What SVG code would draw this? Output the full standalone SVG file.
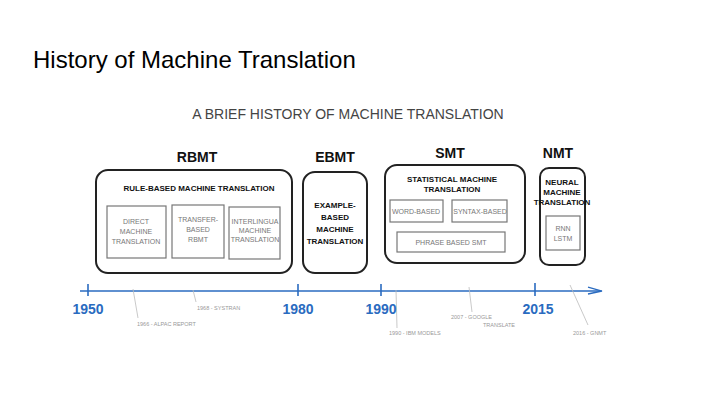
<svg xmlns="http://www.w3.org/2000/svg" width="720" height="405" viewBox="0 0 720 405">
<style>
text{font-family:"Liberation Sans",Arial,sans-serif}
.big{stroke:#222;stroke-width:2;fill:none}
.sub{stroke:#777;stroke-width:1.2;fill:none}
.h{font-size:14px;fill:#111;text-anchor:middle;font-weight:bold}
.t{font-size:8px;fill:#111;text-anchor:middle;font-weight:bold}
.s{font-size:7px;fill:#777;text-anchor:middle}
.n{font-size:5.5px;fill:#999}
.y{font-size:14px;fill:#2a6bc0;font-weight:bold;text-anchor:middle}
.g{stroke:#bbb;stroke-width:0.8;fill:none}
</style>
<rect width="720" height="405" fill="#fff"/>
<text x="33" y="68" font-size="24" fill="#000">History of Machine Translation</text>
<text x="348" y="119" font-size="14" fill="#444" text-anchor="middle">A BRIEF HISTORY OF MACHINE TRANSLATION</text>
<g id="rbmt">
<text class="h" x="197" y="162">RBMT</text>
<rect class="big" x="96" y="170" width="196" height="103" rx="12"/>
<text class="t" x="199" y="191">RULE-BASED MACHINE TRANSLATION</text>
<rect class="sub" x="107" y="206" width="59" height="52"/>
<text class="s" x="136" y="224">DIRECT</text><text class="s" x="136" y="234">MACHINE</text><text class="s" x="136" y="244">TRANSLATION</text>
<rect class="sub" x="172" y="205" width="52" height="53"/>
<text class="s" x="198" y="222">TRANSFER-</text><text class="s" x="198" y="232">BASED</text><text class="s" x="198" y="242">RBMT</text>
<rect class="sub" x="229" y="207" width="51" height="52"/>
<text class="s" x="255" y="224" font-size="6.2">INTERLINGUA</text><text class="s" x="255" y="233" font-size="6.2">MACHINE</text><text class="s" x="255" y="242" font-size="6.2">TRANSLATION</text>
</g>
<g id="ebmt">
<text class="h" x="335" y="162">EBMT</text>
<rect class="big" x="303" y="172" width="64" height="101" rx="12"/>
<text class="t" x="335" y="208">EXAMPLE-</text><text class="t" x="335" y="220">BASED</text><text class="t" x="335" y="232">MACHINE</text><text class="t" x="335" y="244">TRANSLATION</text>
</g>
<g id="smt">
<text class="h" x="450" y="158">SMT</text>
<rect class="big" x="385" y="165" width="140" height="98" rx="12"/>
<text class="t" x="452" y="182">STATISTICAL MACHINE</text><text class="t" x="452" y="192">TRANSLATION</text>
<rect class="sub" x="390" y="200" width="53" height="22"/>
<text class="s" x="416" y="214">WORD-BASED</text>
<rect class="sub" x="452" y="200" width="55" height="22"/>
<text class="s" x="480" y="214">SYNTAX-BASED</text>
<rect class="sub" x="397" y="232" width="108" height="20"/>
<text class="s" x="451" y="245">PHRASE BASED SMT</text>
</g>
<g id="nmt">
<text class="h" x="558" y="158">NMT</text>
<rect class="big" x="540" y="168" width="45" height="97" rx="9"/>
<text class="t" x="562" y="185" font-size="6.5">NEURAL</text><text class="t" x="562" y="195" font-size="6.5">MACHINE</text><text class="t" x="562" y="205" font-size="6.5">TRANSLATION</text>
<rect class="sub" x="546" y="216" width="34" height="34"/>
<text class="s" x="563" y="231">RNN</text><text class="s" x="563" y="241">LSTM</text>
</g>
<g id="connectors">
<line x1="80" y1="291" x2="600" y2="291" stroke="#2a6bc0" stroke-width="1.3"/>
<path d="M588 287 L602 291 L588 294" stroke="#2a6bc0" stroke-width="1.3" fill="none"/>
<g stroke="#2a6bc0" stroke-width="1.6">
<line x1="88" y1="284" x2="88" y2="296"/><line x1="298" y1="284" x2="298" y2="296"/>
<line x1="381" y1="284" x2="381" y2="296"/><line x1="535" y1="283" x2="535" y2="296"/>
</g>
<path class="g" d="M133 289 L138 318"/><path class="g" d="M193 290 L196 302"/>
<path class="g" d="M396 290 L397 328"/><path class="g" d="M469 287 L472 312"/><path class="g" d="M570 285 L588 325"/>
</g>
<text class="y" x="88" y="314">1950</text><text class="y" x="298" y="314">1980</text>
<text class="y" x="381" y="314">1990</text><text class="y" x="538" y="314">2015</text>
<text class="n" x="137" y="326">1966 - ALPAC REPORT</text>
<text class="n" x="197" y="310">1968 - SYSTRAN</text>
<text class="n" x="389" y="335">1990 - IBM MODELS</text>
<text class="n" x="451" y="319">2007 - GOOGLE</text>
<text class="n" x="483" y="327">TRANSLATE</text>
<text class="n" x="573" y="335">2016 - GNMT</text>
</svg>
